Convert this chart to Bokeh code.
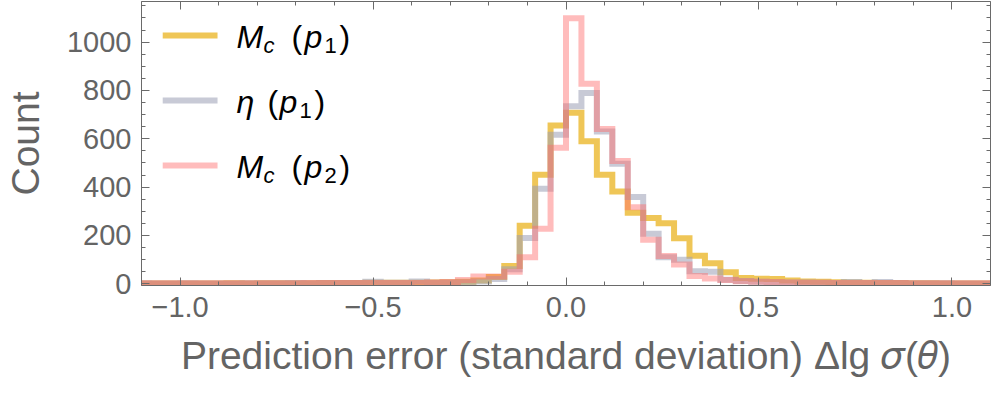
from bokeh.plotting import figure
from bokeh.models import Label, LinearAxis, FixedTicker, Range1d
from bokeh.embed import file_html
from bokeh.resources import INLINE

# ---------------- data ----------------
BIN_WIDTH = 0.04
bin_left = [round(-1.12 + BIN_WIDTH * i, 2) for i in range(56)]

mc_p1 = [1, 1, 1, 1, 1, 1, 2, 1, 2, 2, 2, 2, 3, 3,
         3, 4, 4, 4, 4, 5, 6, 8, 14, 28, 74, 240, 451, 655,
         708, 590, 451, 382, 294, 272, 251, 189, 116, 85, 48, 24, 21, 20,
         14, 10, 8, 6, 5, 4, 3, 3, 2, 2, 1, 1, 1, 1]

eta_p1 = [2, 1, 1, 2, 1, 1, 1, 2, 2, 2, 3, 2, 3, 3,
          3, 9, 4, 4, 10, 4, 5, 6, 10, 20, 60, 190, 393, 617,
          735, 789, 630, 497, 359, 207, 110, 100, 52, 50, 17, 12, 8, 6,
          5, 5, 4, 3, 7, 3, 7, 3, 2, 2, 2, 1, 1, 1]

mc_p2 = [2, 2, 2, 2, 2, 2, 2, 2, 2, 2, 2, 3, 3, 3,
         3, 3, 3, 3, 3, 5, 7, 16, 30, 30, 50, 110, 228, 563,
         1099, 828, 641, 508, 317, 182, 115, 80, 32, 22, 16, 11, 9, 7,
         5, 4, 4, 3, 3, 3, 3, 3, 2, 2, 2, 2, 2, 2]

series_names = ["Mc (p1)", "eta (p1)", "Mc (p2)"]
series_colors = ["#E8AE10", "#9A9EB5", "#FF6B6B"]
series_alpha = [0.7, 0.55, 0.45]

x_ticks = [-1.0, -0.5, 0.0, 0.5, 1.0]
x_tick_labels = ["\u22121.0", "\u22120.5", "0.0", "0.5", "1.0"]
y_ticks = [0, 200, 400, 600, 800, 1000]
y_tick_labels = ["0", "200", "400", "600", "800", "1000"]

X_MIN, X_MAX = -1.1, 1.1
Y_MIN, Y_MAX = -7, 1168

# ---------------- figure ----------------
W, H = 992, 388
FRAME_H = 284
GRAY = "#646464"
AX = "#6a6a6a"
FONT = "Liberation Sans"

p = figure(width=W, height=H, output_backend="svg", toolbar_location=None,
           x_range=Range1d(X_MIN, X_MAX), y_range=Range1d(Y_MIN, Y_MAX),
           min_border_left=136, min_border_right=2, min_border_top=1,
           min_border_bottom=103, x_axis_location=None, y_axis_location=None)
p.xgrid.visible = False
p.ygrid.visible = False
p.outline_line_color = None
p.background_fill_color = "white"
p.border_fill_color = "white"

x_minor = [round(-1.1 + 0.1 * i, 1) for i in range(23)]
y_minor = [50 * i for i in range(24)]


def style_ticks(ax):
    ax.major_tick_in = 8
    ax.major_tick_out = 0
    ax.minor_tick_in = 4
    ax.minor_tick_out = 0
    ax.axis_line_color = AX
    ax.major_tick_line_color = AX
    ax.minor_tick_line_color = AX


def make_x_axis(labels):
    ax = LinearAxis(ticker=FixedTicker(ticks=x_ticks, minor_ticks=x_minor))
    style_ticks(ax)
    if labels:
        ax.major_label_overrides = dict(zip(x_ticks, x_tick_labels))
        ax.major_label_text_font = FONT
        ax.major_label_text_font_size = "29px"
        ax.major_label_text_color = GRAY
        ax.major_label_standoff = 11
        ax.axis_label = "Prediction error (standard deviation) \u0394lg \U0001D70E(\U0001D703)"
        ax.axis_label_text_font = FONT
        ax.axis_label_text_font_size = "39px"
        ax.axis_label_text_font_style = "normal"
        ax.axis_label_text_color = GRAY
        ax.axis_label_standoff = 14
    else:
        ax.major_label_overrides = {t: "" for t in x_ticks}
        ax.major_label_text_font_size = "0px"
        ax.major_label_standoff = 0
    return ax


def make_y_axis(labels):
    ax = LinearAxis(ticker=FixedTicker(ticks=y_ticks, minor_ticks=y_minor))
    style_ticks(ax)
    if labels:
        ax.major_label_overrides = dict(zip(y_ticks, y_tick_labels))
        ax.major_label_text_font = FONT
        ax.major_label_text_font_size = "29px"
        ax.major_label_text_color = GRAY
        ax.major_label_standoff = 10
        ax.axis_label = "Count"
        ax.axis_label_text_font = FONT
        ax.axis_label_text_font_size = "39px"
        ax.axis_label_text_font_style = "normal"
        ax.axis_label_text_color = GRAY
        ax.axis_label_standoff = 17
    else:
        ax.major_label_overrides = {t: "" for t in y_ticks}
        ax.major_label_text_font_size = "0px"
        ax.major_label_standoff = 0
    return ax


p.add_layout(make_x_axis(True), "below")
p.add_layout(make_x_axis(False), "above")
p.add_layout(make_y_axis(True), "left")
p.add_layout(make_y_axis(False), "right")

PX = (Y_MAX - Y_MIN) / FRAME_H          # counts per pixel

# ---------------- histograms (step lines) ----------------
edges = bin_left + [round(bin_left[-1] + BIN_WIDTH, 2)]
for vals, col, a in zip([mc_p1, eta_p1, mc_p2], series_colors, series_alpha):
    p.step(x=edges, y=vals + [vals[-1]], mode="after", line_color=col,
           line_alpha=a, line_width=6, line_join="miter")

# ---------------- legend ----------------
LEG_X0, LEG_X1 = -1.045, -0.903          # swatch extent
LEG_TX = -0.854                           # text anchor
row_y = [1027, 758, 489]                  # swatch centres
MAIN, SUB = "32px", "22px"

row_parts = [
    [("M", 0, MAIN, "italic", 0), ("c", 27, SUB, "italic", 1), ("(", 55, MAIN, "normal", 0),
     ("p", 68, MAIN, "italic", 0), ("1", 88, SUB, "normal", 1), (")", 103, MAIN, "normal", 0)],
    [("\u03b7", 0, MAIN, "italic", 0), ("(", 31, MAIN, "normal", 0),
     ("p", 43, MAIN, "italic", 0), ("1", 63, SUB, "normal", 1), (")", 78, MAIN, "normal", 0)],
    [("M", 0, MAIN, "italic", 0), ("c", 27, SUB, "italic", 1), ("(", 55, MAIN, "normal", 0),
     ("p", 68, MAIN, "italic", 0), ("2", 88, SUB, "normal", 1), (")", 103, MAIN, "normal", 0)],
]

for ry, col, a, parts in zip(row_y, series_colors, series_alpha, row_parts):
    p.line([LEG_X0, LEG_X1], [ry, ry], line_color=col, line_alpha=a, line_width=6)
    for txt, dx, size, style, is_sub in parts:
        base = ry - (10 if is_sub else 1) * PX
        p.add_layout(Label(x=LEG_TX, y=base, x_offset=dx, text=txt,
                           text_font=FONT, text_font_size=size,
                           text_font_style=style, text_color="black",
                           text_baseline="alphabetic", text_align="left"))

open("out.html", "w").write(file_html(p, INLINE))
